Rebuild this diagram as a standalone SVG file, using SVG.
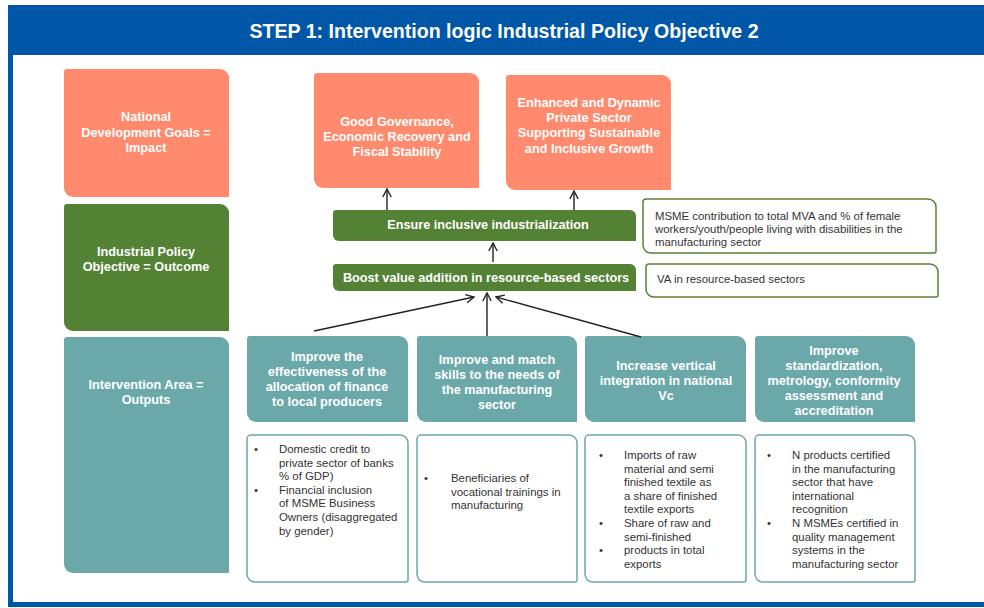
<svg xmlns="http://www.w3.org/2000/svg" width="984" height="608" viewBox="0 0 984 608">
<style>
.salmon{fill:#FF8A6E}
.green{fill:#548235}
.teal{fill:#6BA8AA}
.obox{fill:#fff;stroke:#6BA8AA;stroke-width:1.5}
.gbox{fill:#fff;stroke:#548235;stroke-width:1.5}
.h{font-family:"Liberation Sans",Arial,sans-serif;font-weight:bold;font-size:12.7px;fill:#fff;text-anchor:middle}
.t{font-family:"Liberation Sans",Arial,sans-serif;font-size:11.4px;fill:#333}
.conn{stroke:#222;stroke-width:1.4;fill:none;marker-end:url(#arr)}
</style>
<defs>
<marker id="arr" markerUnits="userSpaceOnUse" markerWidth="12" markerHeight="12" refX="9" refY="5" orient="auto" viewBox="0 0 12 10">
<path d="M1,0.8 L9,5 L1,9.2" fill="none" stroke="#222" stroke-width="1.4"/>
</marker>
</defs>
<rect width="984" height="608" fill="#fff"/>
<g id="frame">
<rect x="8" y="5" width="976" height="50" fill="#0057A8"/>
<rect x="8" y="5" width="5" height="602" fill="#0057A8"/>
<rect x="8" y="602" width="976" height="5" fill="#0057A8"/>
<text x="504" y="38" font-family="'Liberation Sans',Arial,sans-serif" font-weight="bold" font-size="19.6" fill="#fff" text-anchor="middle">STEP 1: Intervention logic Industrial Policy Objective 2</text>
</g>
<g id="impact-label">
<path class="salmon" d="M67,69 H220 a9,9 0 0 1 9,9 V197 H73 a9,9 0 0 1 -9,-9 V72 a3,3 0 0 1 3,-3 Z"/>
<text class="h" x="146" y="121">National</text>
<text class="h" x="146" y="136.5">Development Goals =</text>
<text class="h" x="146" y="152">Impact</text>
</g>
<g id="outcome-label">
<path class="green" d="M67,204 H220 a9,9 0 0 1 9,9 V331 H73 a9,9 0 0 1 -9,-9 V207 a3,3 0 0 1 3,-3 Z"/>
<text class="h" x="146" y="256">Industrial Policy</text>
<text class="h" x="146" y="271">Objective = Outcome</text>
</g>
<g id="outputs-label">
<path class="teal" d="M67,337 H220 a9,9 0 0 1 9,9 V573 H73 a9,9 0 0 1 -9,-9 V340 a3,3 0 0 1 3,-3 Z"/>
<text class="h" x="146" y="388.5">Intervention Area =</text>
<text class="h" x="146" y="403.5">Outputs</text>
</g>
<g id="goal-governance">
<path class="salmon" d="M317,73 H470 a9,9 0 0 1 9,9 V188 H323 a9,9 0 0 1 -9,-9 V76 a3,3 0 0 1 3,-3 Z"/>
<text class="h" x="397" y="125.5">Good Governance,</text>
<text class="h" x="397" y="140.5">Economic Recovery and</text>
<text class="h" x="397" y="155.5">Fiscal Stability</text>
</g>
<g id="goal-private-sector">
<path class="salmon" d="M509,75 H662 a9,9 0 0 1 9,9 V190 H515 a9,9 0 0 1 -9,-9 V78 a3,3 0 0 1 3,-3 Z"/>
<text class="h" x="589" y="107">Enhanced and Dynamic</text>
<text class="h" x="589" y="122">Private Sector</text>
<text class="h" x="589" y="137">Supporting Sustainable</text>
<text class="h" x="589" y="152.5">and Inclusive Growth</text>
</g>
<g id="obj-inclusive">
<path class="green" d="M336,210 H630 a6,6 0 0 1 6,6 V241 H339 a6,6 0 0 1 -6,-6 V213 a3,3 0 0 1 3,-3 Z"/>
<text class="h" x="488" y="228.8">Ensure inclusive industrialization</text>
</g>
<g id="obj-value-addition">
<path class="green" d="M336,264 H630 a6,6 0 0 1 6,6 V291 H339 a6,6 0 0 1 -6,-6 V267 a3,3 0 0 1 3,-3 Z"/>
<text class="h" x="486" y="282">Boost value addition in resource-based sectors</text>
</g>
<g id="ind-msme">
<path class="gbox" d="M646,199 H928 a8,8 0 0 1 8,8 V251 a2,2 0 0 1 -2,2 H651 a8,8 0 0 1 -8,-8 V202 a3,3 0 0 1 3,-3 Z"/>
<text class="t" x="655" y="219.5">MSME contribution to total MVA and % of female</text>
<text class="t" x="655" y="232.5">workers/youth/people living with disabilities in the</text>
<text class="t" x="655" y="245.5">manufacturing sector</text>
</g>
<g id="ind-va">
<path class="gbox" d="M649,264 H930 a8,8 0 0 1 8,8 V295 a2,2 0 0 1 -2,2 H654 a8,8 0 0 1 -8,-8 V267 a3,3 0 0 1 3,-3 Z"/>
<text class="t" x="657" y="283.3">VA in resource-based sectors</text>
</g>
<g id="out-finance">
<path class="teal" d="M250,336 H399 a9,9 0 0 1 9,9 V422 H256 a9,9 0 0 1 -9,-9 V339 a3,3 0 0 1 3,-3 Z"/>
<text class="h" x="327" y="360.5">Improve the</text>
<text class="h" x="327" y="375.5">effectiveness of the</text>
<text class="h" x="327" y="390.5">allocation of finance</text>
<text class="h" x="327" y="405.5">to local producers</text>
</g>
<g id="out-skills">
<path class="teal" d="M420,336 H568 a9,9 0 0 1 9,9 V422 H426 a9,9 0 0 1 -9,-9 V339 a3,3 0 0 1 3,-3 Z"/>
<text class="h" x="497" y="363.5">Improve and match</text>
<text class="h" x="497" y="378.5">skills to the needs of</text>
<text class="h" x="497" y="393.5">the manufacturing</text>
<text class="h" x="497" y="408.5">sector</text>
</g>
<g id="out-vertical">
<path class="teal" d="M588,336 H737 a9,9 0 0 1 9,9 V422 H594 a9,9 0 0 1 -9,-9 V339 a3,3 0 0 1 3,-3 Z"/>
<text class="h" x="666" y="369.5">Increase vertical</text>
<text class="h" x="666" y="384.5">integration in national</text>
<text class="h" x="666" y="400">Vc</text>
</g>
<g id="out-standards">
<path class="teal" d="M758,336 H906 a9,9 0 0 1 9,9 V422 H764 a9,9 0 0 1 -9,-9 V339 a3,3 0 0 1 3,-3 Z"/>
<text class="h" x="834" y="354.5">Improve</text>
<text class="h" x="834" y="369.5">standardization,</text>
<text class="h" x="834" y="384.5">metrology, conformity</text>
<text class="h" x="834" y="399.5">assessment and</text>
<text class="h" x="834" y="415">accreditation</text>
</g>
<g id="ind-finance">
<path class="obox" d="M251,435 H400 a8,8 0 0 1 8,8 V580 a2,2 0 0 1 -2,2 H255 a8,8 0 0 1 -8,-8 V439 a4,4 0 0 1 4,-4 Z"/>
<text class="t" x="254" y="453">•</text>
<text class="t" x="279" y="453">Domestic credit to</text>
<text class="t" x="279" y="466.6">private sector of banks</text>
<text class="t" x="279" y="480.2">% of GDP)</text>
<text class="t" x="254" y="493.8">•</text>
<text class="t" x="279" y="493.8">Financial inclusion</text>
<text class="t" x="279" y="507.4">of MSME Business</text>
<text class="t" x="279" y="521">Owners (disaggregated</text>
<text class="t" x="279" y="534.6">by gender)</text>
</g>
<g id="ind-skills">
<path class="obox" d="M421,435 H569 a8,8 0 0 1 8,8 V580 a2,2 0 0 1 -2,2 H425 a8,8 0 0 1 -8,-8 V439 a4,4 0 0 1 4,-4 Z"/>
<text class="t" x="424" y="482">•</text>
<text class="t" x="451" y="482">Beneficiaries of</text>
<text class="t" x="451" y="495.6">vocational trainings in</text>
<text class="t" x="451" y="509.2">manufacturing</text>
</g>
<g id="ind-vertical">
<path class="obox" d="M589,435 H738 a8,8 0 0 1 8,8 V580 a2,2 0 0 1 -2,2 H593 a8,8 0 0 1 -8,-8 V439 a4,4 0 0 1 4,-4 Z"/>
<text class="t" x="599" y="459">•</text>
<text class="t" x="624" y="459">Imports of raw</text>
<text class="t" x="624" y="472.6">material and semi</text>
<text class="t" x="624" y="486.2">finished textile as</text>
<text class="t" x="624" y="499.8">a share of finished</text>
<text class="t" x="624" y="513.4">textile exports</text>
<text class="t" x="599" y="527">•</text>
<text class="t" x="624" y="527">Share of raw and</text>
<text class="t" x="624" y="540.6">semi-finished</text>
<text class="t" x="599" y="554.2">•</text>
<text class="t" x="624" y="554.2">products in total</text>
<text class="t" x="624" y="567.8">exports</text>
</g>
<g id="ind-standards">
<path class="obox" d="M759,435 H907 a8,8 0 0 1 8,8 V580 a2,2 0 0 1 -2,2 H763 a8,8 0 0 1 -8,-8 V439 a4,4 0 0 1 4,-4 Z"/>
<text class="t" x="767" y="459">•</text>
<text class="t" x="792" y="459">N products certified</text>
<text class="t" x="792" y="472.6">in the manufacturing</text>
<text class="t" x="792" y="486.2">sector that have</text>
<text class="t" x="792" y="499.8">international</text>
<text class="t" x="792" y="513.4">recognition</text>
<text class="t" x="767" y="527">•</text>
<text class="t" x="792" y="527">N MSMEs certified in</text>
<text class="t" x="792" y="540.6">quality management</text>
<text class="t" x="792" y="554.2">systems in the</text>
<text class="t" x="792" y="567.8">manufacturing sector</text>
</g>
<g id="connectors">
<line class="conn" x1="387" y1="210" x2="387" y2="189"/>
<line class="conn" x1="574" y1="210" x2="574" y2="191"/>
<line class="conn" x1="493" y1="262" x2="493" y2="243"/>
<line class="conn" x1="314" y1="331" x2="474" y2="297"/>
<line class="conn" x1="487" y1="336" x2="487" y2="293"/>
<line class="conn" x1="641" y1="337" x2="496" y2="297"/>
</g>
</svg>
